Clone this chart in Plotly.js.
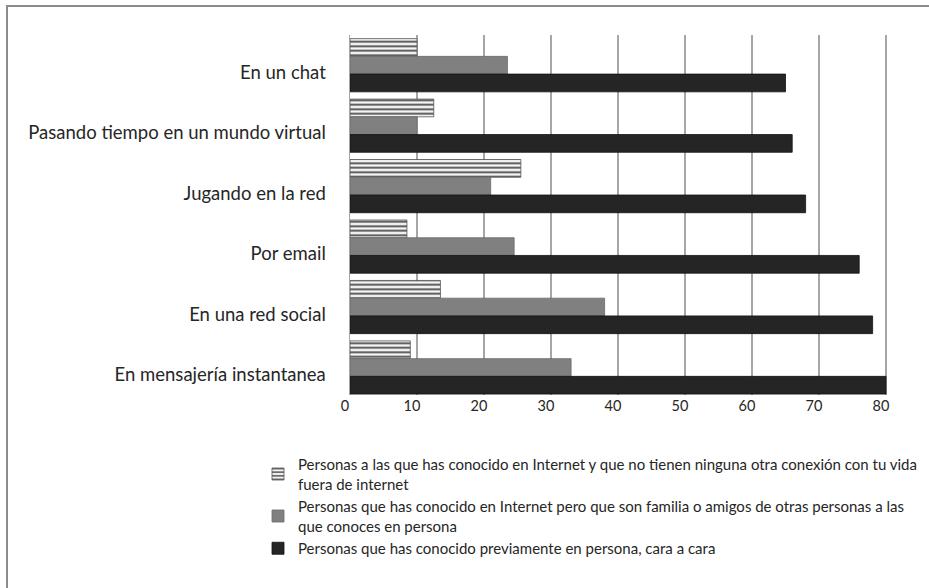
<!DOCTYPE html>
<html>
<head>
<meta charset="utf-8">
<script src="https://cdn.plot.ly/plotly-3.0.1.min.js"></script>
<style>
  html, body { margin: 0; padding: 0; background: #ffffff; }
  #chart { width: 929px; height: 588px; position: relative; }
  #frame { position: absolute; left: 6px; top: 5px; width: 940px; height: 600px;
           border-left: 2px solid #8c8c8c; border-top: 2px solid #8c8c8c; pointer-events: none; }
</style>
</head>
<body>
<div id="chart"></div>
<div id="frame"></div>
<script>
const categories = [
  "En un chat",
  "Pasando tiempo en un mundo virtual",
  "Jugando en la red",
  "Por email",
  "En una red social",
  "En mensajería instantanea"
];
const seriesNames = [
  "Personas a las que has conocido en Internet y que no tienen ninguna otra conexión con tu vida<br>fuera de internet",
  "Personas que has conocido en Internet pero que son familia o amigos de otras personas a las<br>que conoces en persona",
  "Personas que has conocido previamente en persona, cara a cara"
];
const onlineOnly   = [10, 12.5, 25.5, 8.5, 13.5, 9];
const friendsOfFriends = [23.5, 10, 21, 24.5, 38, 33];
const faceToFace   = [65, 66, 68, 76, 78, 80];
const xTicks = [0, 10, 20, 30, 40, 50, 60, 70, 80];

const font = "Lato, 'Open Sans', sans-serif";

const traces = [
  {
    type: "bar", orientation: "h", name: seriesNames[0],
    y: categories, x: onlineOnly,
    marker: { color: "#f2f2f2", line: { color: "#555555", width: 0.8 },
              pattern: { shape: "-", fgcolor: "#4a4a4a", bgcolor: "#f4f4f4", size: 4.5, solidity: 0.4 } }
  },
  {
    type: "bar", orientation: "h", name: seriesNames[1],
    y: categories, x: friendsOfFriends,
    marker: { color: "#808080", line: { color: "#6a6a6a", width: 0.8 } }
  },
  {
    type: "bar", orientation: "h", name: seriesNames[2],
    y: categories, x: faceToFace,
    marker: { color: "#252525", line: { color: "#111111", width: 0.8 } }
  }
];

const M = { l: 350, r: 32, t: 35, b: 193 };
const plotW = 929 - M.l - M.r, plotH = 588 - M.t - M.b;

const layout = {
  width: 929, height: 588,
  paper_bgcolor: "#ffffff", plot_bgcolor: "rgba(0,0,0,0)",
  margin: { l: M.l, r: M.r, t: M.t, b: M.b, pad: 0, autoexpand: false },
  font: { family: font, size: 14, color: "#262626" },
  barmode: "group", bargap: 0.12, bargroupgap: 0,
  showlegend: true,
  xaxis: {
    range: [0, 81.64], tickvals: xTicks, ticktext: xTicks.map(String),
    showgrid: true, gridcolor: "#a6a6a6", gridwidth: 1.6,
    zeroline: false, showline: false, ticks: "",
    tickfont: { family: font, size: 14.5, color: "#262626" },
    ticklabelshift: -5, ticklabelstandoff: 0, fixedrange: true
  },
  yaxis: {
    type: "category", categoryorder: "array", categoryarray: categories,
    range: [5.455, -0.5], showgrid: false, zeroline: false,
    showline: true, linecolor: "#a6a6a6", linewidth: 1.5, ticks: "",
    tickfont: { family: font, size: 18.5, color: "#262626" },
    ticklabelshift: -7, ticklabelstandoff: 19, fixedrange: true
  },
  legend: {
    xref: "paper", yref: "paper",
    x: (258 - M.l) / plotW, y: -(448 - (588 - M.b)) / plotH,
    xanchor: "left", yanchor: "top",
    orientation: "v", traceorder: "normal",
    font: { family: font, size: 15, color: "#262626" },
    itemwidth: 30, tracegroupgap: 2, bgcolor: "rgba(0,0,0,0)"
  }
};

Plotly.newPlot("chart", traces, layout, { displayModeBar: false, staticPlot: true });
</script>
</body>
</html>
